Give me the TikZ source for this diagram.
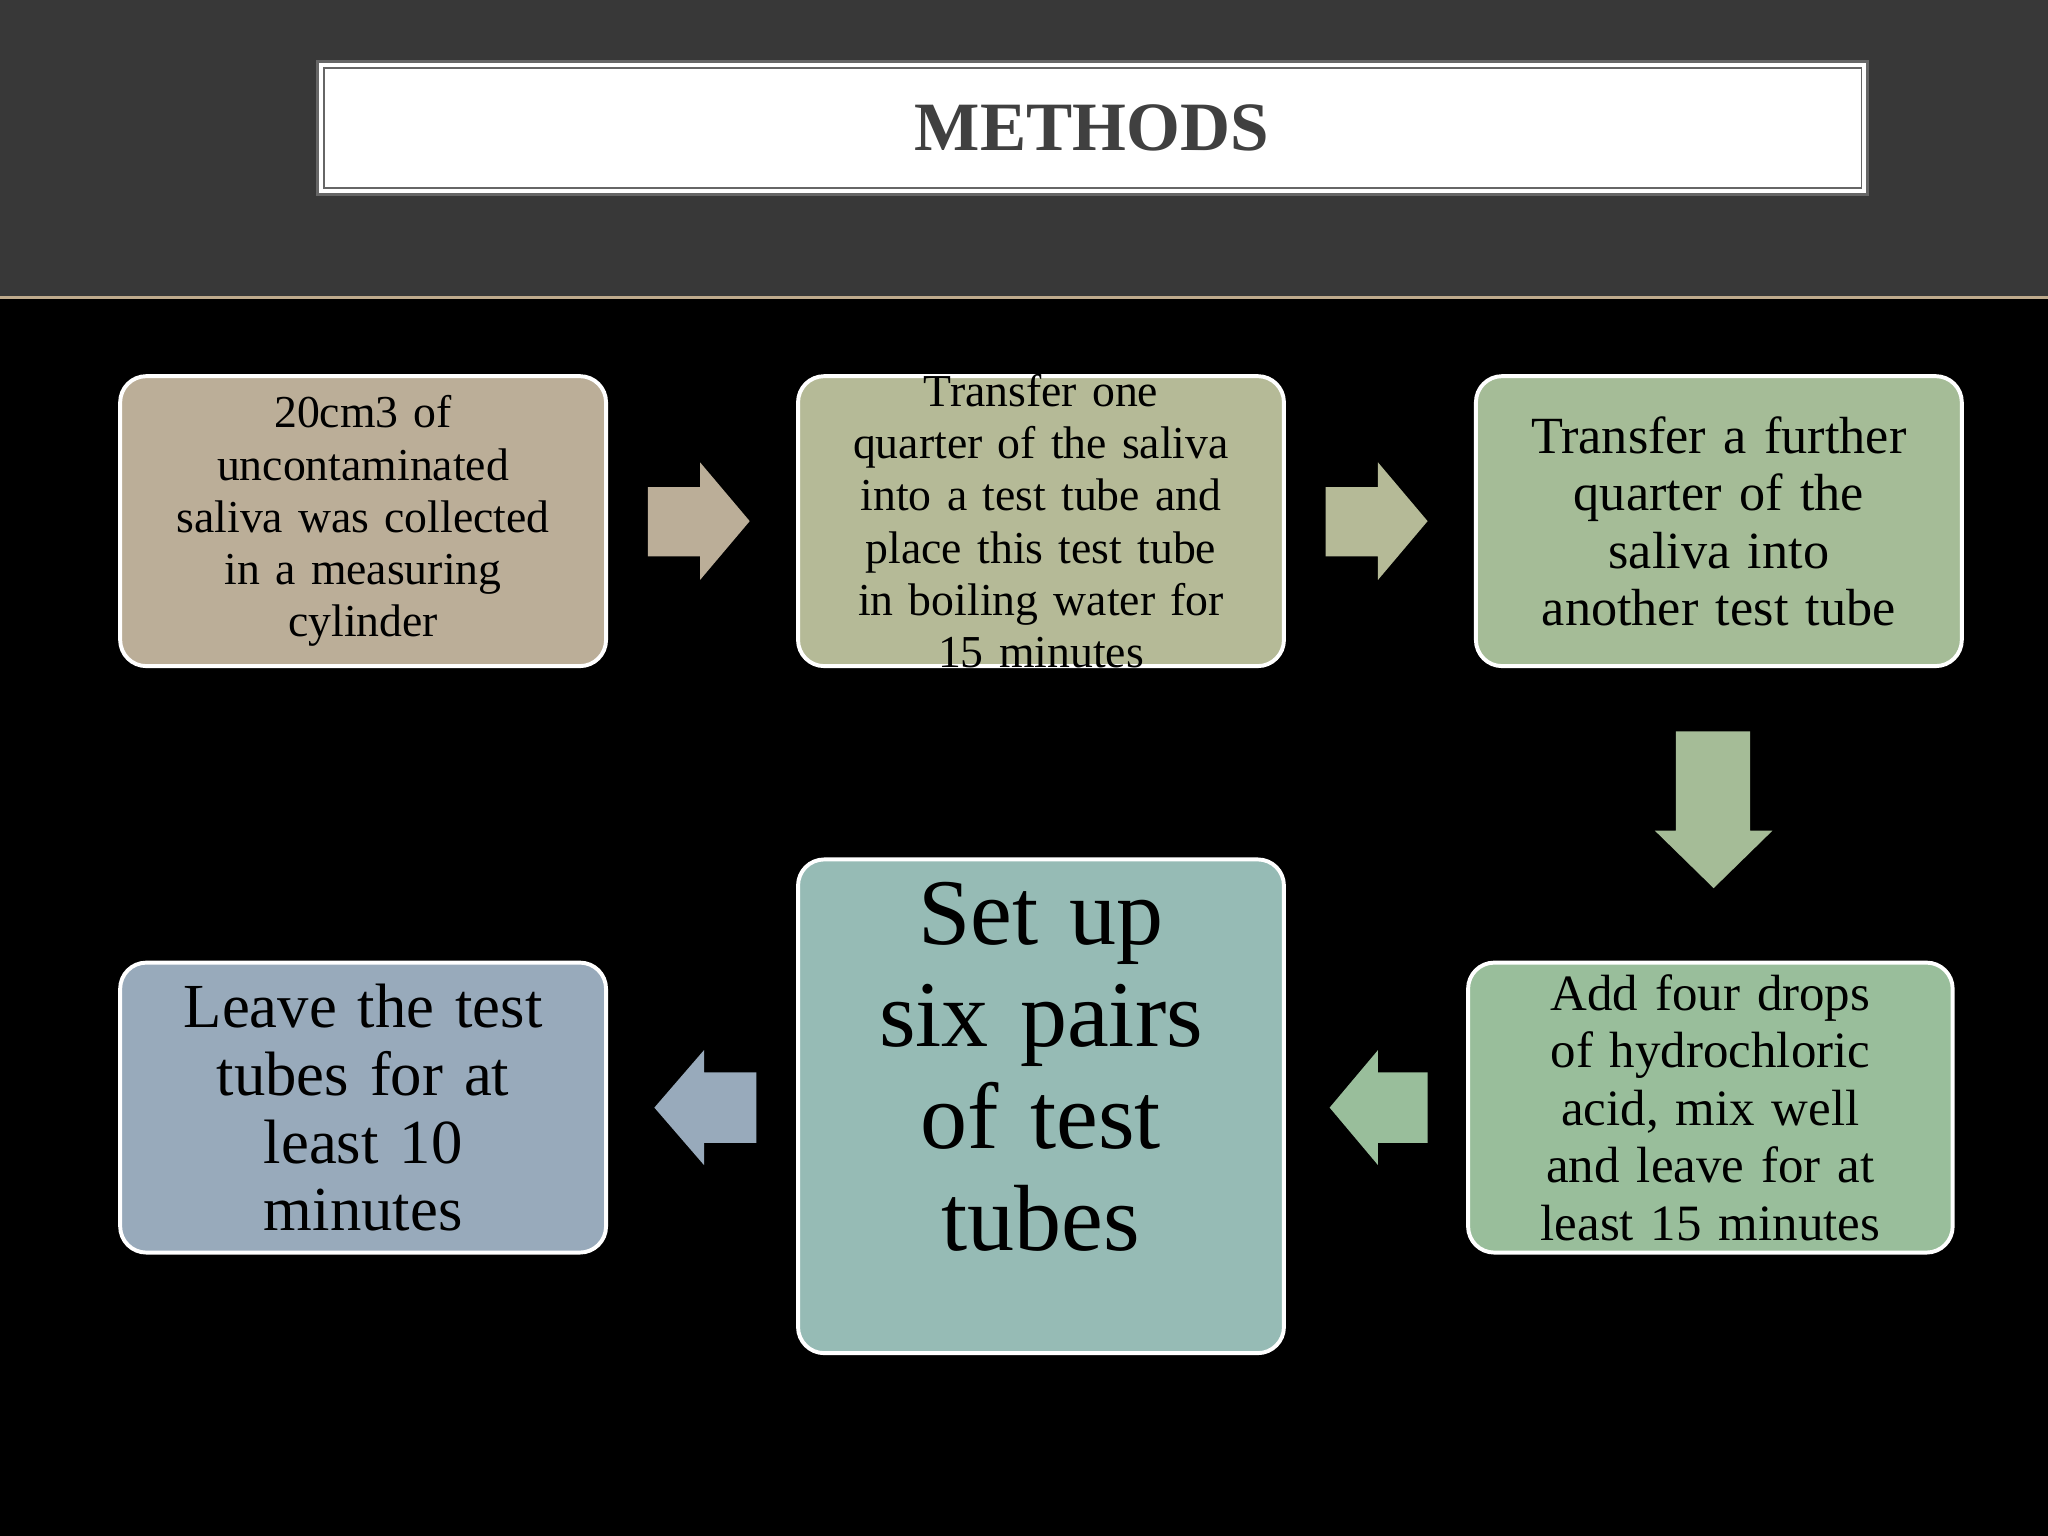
\documentclass[tikz,border=0pt]{standalone}
\usepackage{fontspec}
\setmainfont{Liberation Serif}
\definecolor{c1}{HTML}{BBAE98}
\definecolor{c2}{HTML}{B5BA97}
\definecolor{c3}{HTML}{A5BC97}
\definecolor{c4}{HTML}{99BE9B}
\definecolor{c5}{HTML}{96BBB5}
\definecolor{c6}{HTML}{98AABB}
\begin{document}
\begin{tikzpicture}[x=0.5pt,y=-0.5pt,
  box/.style={draw=white,line width=1.5pt,rounded corners=10pt,text=black,align=center,inner sep=0pt},
]
\useasboundingbox (0,0) rectangle (1568,1176);
\fill[black] (0,0) rectangle (1568,1176);
\fill[black!78] (0,0) rectangle (1568,228);
\draw[color={rgb,255:red,190;green,170;blue,140},line width=1pt] (0,228) -- (1568,228);
\fill[white] (243,47) rectangle (1430,149);
\draw[black!60,line width=1pt] (243,47) rectangle (1430,149);
\draw[black!60,line width=0.5pt] (248,52) rectangle (1425,144);
\node[text=black!75,font=\fontsize{26.5}{30}\selectfont\bfseries] (title) at (836,98) {METHODS};
\node[box,fill=c1,minimum width=186pt,minimum height=111pt,text width=180pt,font=\fontsize{17.5}{20}\selectfont] (b1) at (278,399) {20cm3 of\\uncontaminated\\saliva was collected\\in a measuring\\cylinder};
\node[box,fill=c2,minimum width=186pt,minimum height=111pt] (b2) at (797,399) {};
\node[text width=180pt,align=center,font=\fontsize{17.5}{20}\selectfont,inner sep=0pt] (t2) at (797,399) {Transfer one\\quarter of the saliva\\into a test tube and\\place this test tube\\in boiling water for\\15 minutes};
\node[box,fill=c3,minimum width=186pt,minimum height=111pt,text width=180pt,font=\fontsize{20}{22}\selectfont] (b3) at (1316,399) {Transfer a further\\quarter of the\\saliva into\\another test tube};
\node[box,fill=c4,minimum width=185.5pt,minimum height=111pt,text width=180pt,font=\fontsize{19.5}{22}\selectfont] (b4) at (1309.5,848) {Add four drops\\of hydrochloric\\acid, mix well\\and leave for at\\least 15 minutes};
\node[box,fill=c5,minimum width=186pt,minimum height=189pt] (b5) at (797,847) {};
\node[text width=180pt,align=center,inner sep=0pt,font=\fontsize{36}{39}\selectfont] (t5) at (797,817) {Set up\\six pairs\\of test\\tubes};
\node[box,fill=c6,minimum width=186pt,minimum height=111pt,text width=180pt,font=\fontsize{24}{26}\selectfont] (b6) at (278,848) {Leave the test\\tubes for at\\least 10\\minutes};
\fill[c1] (496,373) -- (536,373) -- (536,354) -- (574,399) -- (536,444) -- (536,426) -- (496,426) -- cycle;
\fill[c2] (1015,373) -- (1055,373) -- (1055,354) -- (1093,399) -- (1055,444) -- (1055,426) -- (1015,426) -- cycle;
\fill[c3] (1283,560) -- (1340,560) -- (1340,636) -- (1357,636) -- (1312,680) -- (1267,636) -- (1283,636) -- cycle;
\fill[c4] (1093,821) -- (1055,821) -- (1055,804) -- (1018,848) -- (1055,892) -- (1055,875) -- (1093,875) -- cycle;
\fill[c6] (579,821) -- (539,821) -- (539,804) -- (501,848) -- (539,892) -- (539,875) -- (579,875) -- cycle;
\end{tikzpicture}
\end{document}
